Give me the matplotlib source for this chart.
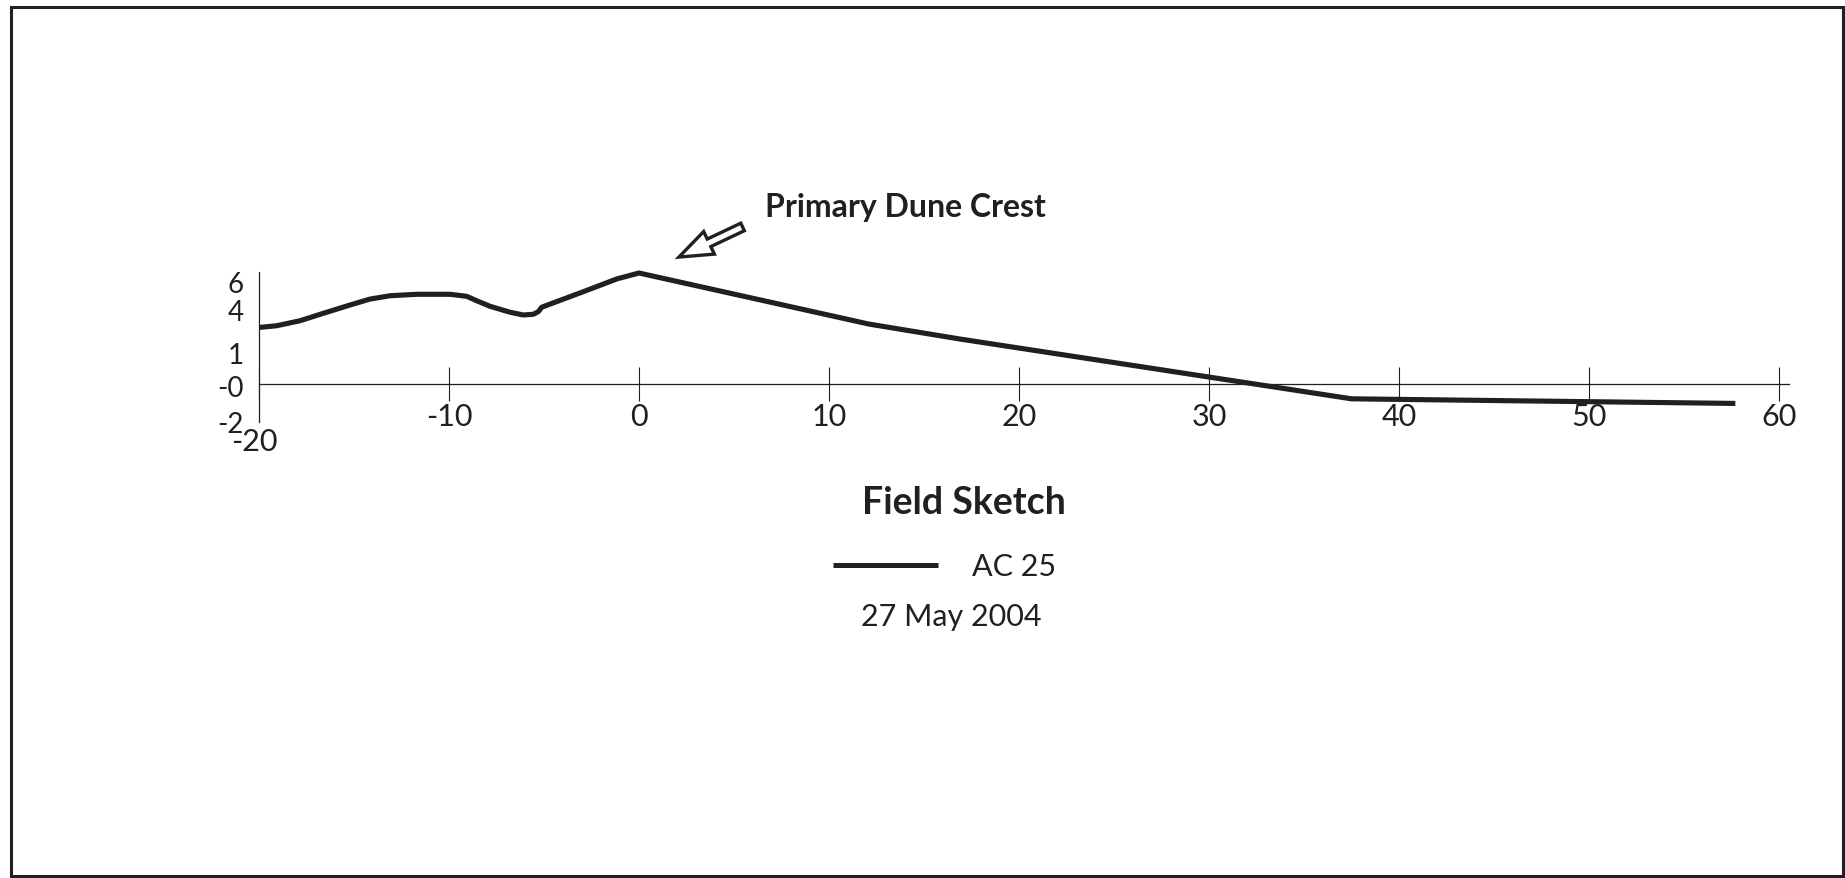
import matplotlib
matplotlib.use('Agg')
import matplotlib.pyplot as plt
from matplotlib.patches import Rectangle, FancyArrowPatch
from matplotlib.transforms import ScaledTranslation

plt.rcParams['font.family'] = ['Lato', 'DejaVu Sans']

INK = '#231f20'
W, H, DPI = 1845, 879, 100

# profile AC 25 (distance in m, elevation in m)
dist = [-19.95, -19.07, -17.84, -16.62, -15.21, -14.16, -13.11, -11.70, -9.95,
        -9.07, -8.54, -7.84, -6.79, -6.09, -5.56, -5.30, -5.12, -4.68, -2.93,
        -1.17, 0.0, 12.1, 16.9, 32.4, 37.5, 57.7]
elev = [3.06, 3.15, 3.42, 3.82, 4.27, 4.59, 4.77, 4.85, 4.85,
        4.74, 4.50, 4.20, 3.88, 3.73, 3.77, 3.91, 4.15, 4.32, 4.99,
        5.68, 6.0, 3.24, 2.43, 0.0, -0.8, -1.05]

x_ticks = [-20, -10, 0, 10, 20, 30, 40, 50, 60]
x_labels = ['-20', '-10', '0', '10', '20', '30', '40', '50', '60']
y_ticks = [5.55, 4.05, 1.73, -0.1, -2.0]
y_labels = ['6', '4', '1', '-0', '-2']

fig = plt.figure(figsize=(W / DPI, H / DPI), dpi=DPI)
ax = fig.add_axes([0, 0, 1, 1])
ax.set_xlim(-33.63, 63.47)
ax.set_ylim(-26.7, 20.81)
ax.patch.set_visible(False)

# the profile line
ax.plot(dist, elev, color=INK, lw=3.7, solid_joinstyle='round', solid_capstyle='butt')

# axes as crossing lines
for s in ['top', 'right']:
    ax.spines[s].set_visible(False)
ax.spines['bottom'].set_position(('data', 0))
ax.spines['bottom'].set_bounds(-20, 60.5)
ax.spines['left'].set_position(('data', -20))
ax.spines['left'].set_bounds(-2.05, 6.05)
for s in ['bottom', 'left']:
    ax.spines[s].set_color(INK)
    ax.spines[s].set_linewidth(0.9)

ax.set_xticks(x_ticks)
ax.set_xticklabels(x_labels, fontsize=22, color=INK)
ax.tick_params(axis='x', direction='inout', length=24, width=0.8, color=INK, pad=1)
ax.set_yticks(y_ticks)
ax.set_yticklabels(y_labels, fontsize=20, color=INK)
ax.tick_params(axis='y', length=0, pad=11)

# -20 sits lower than the other labels
lbl = ax.get_xticklabels()[0]
lbl.set_transform(lbl.get_transform() + ScaledTranslation(-3 / 72, -18 / 72, fig.dpi_scale_trans))

# annotation
fig.text(765 / W, 1 - 208 / H, 'Primary Dune Crest', fontsize=23, fontweight='bold',
         color=INK, ha='left', va='center')
arrow = FancyArrowPatch((5.45, 8.49), (2.1, 6.86),
                        arrowstyle='simple,head_length=24,head_width=18,tail_width=6',
                        mutation_scale=1, fc='white', ec=INK, lw=2.4,
                        shrinkA=0, shrinkB=0, joinstyle='miter')
ax.add_patch(arrow)

# caption / legend
fig.text(964 / W, 1 - 503 / H, 'Field Sketch', fontsize=27, fontweight='bold',
         color=INK, ha='center', va='center')
fig.add_artist(plt.Line2D([833 / W, 938 / W], [1 - 566 / H, 1 - 566 / H],
                          color=INK, lw=3.6, solid_capstyle='butt'))
fig.text(972 / W, 1 - 567 / H, 'AC 25', fontsize=22, color=INK,
         ha='left', va='center')
fig.text(951 / W, 1 - 617 / H, '27 May 2004', fontsize=22, color=INK,
         ha='center', va='center')

# frame round the sheet
fig.add_artist(Rectangle((11 / W, 2 / H), 1832 / W, 869 / H, transform=fig.transFigure,
                         fill=False, ec=INK, lw=2.2))

fig.savefig('out.png', dpi=DPI)
